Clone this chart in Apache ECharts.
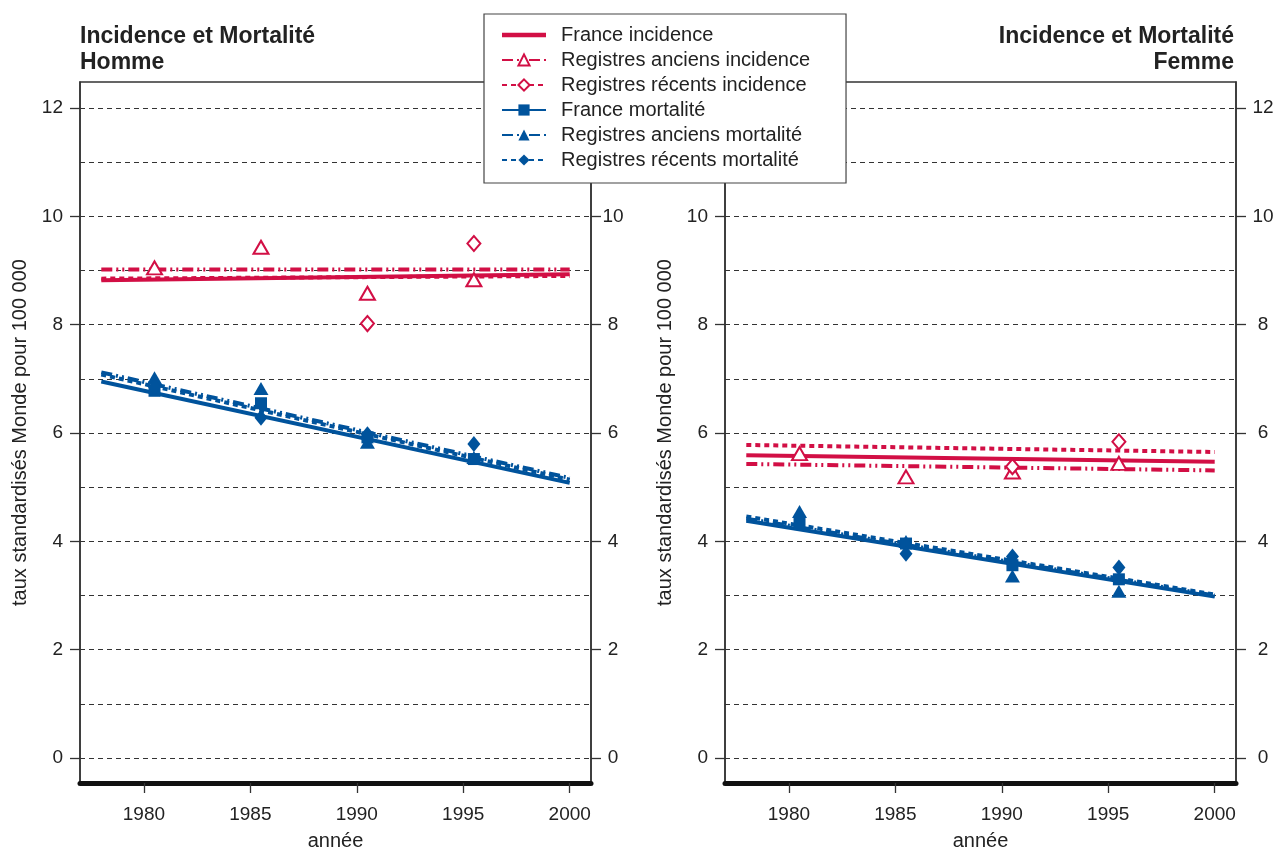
<!DOCTYPE html>
<html>
<head>
    <meta charset="utf-8">
    <title>Incidence et Mortalité</title>
    <script src="https://cdn.jsdelivr.net/npm/echarts@6/dist/echarts.min.js"></script>
    <style>
        html,body{
            height:100%;
            width:100%;
            margin:0;
            padding:0;
            background:#fff;
        }
        #chart{
            width:1284px;
            height:856px;
        }
    </style>
</head>
<body>
<div id="chart"></div>
<script>
    var myChart = echarts.init(document.getElementById('chart'));

    // années des droites de tendance (début, fin)
    var trendYears = [1978, 2000];
    // années des points observés
    var pointYears = [1980.5, 1985.5, 1990.5, 1995.5];
    // graduations
    var xTicks = [1980, 1985, 1990, 1995, 2000];
    var yTicks = [0, 2, 4, 6, 8, 10, 12];

    // Homme - tendances
    var hFranceInc = [8.82, 8.93];
    var hAncInc = [9.02, 9.02];
    var hRecInc = [8.85, 8.90];
    var hFranceMort = [6.95, 5.08];
    var hAncMort = [7.12, 5.17];
    var hRecMort = [7.08, 5.14];
    // Homme - points (null = pas de point visible)
    var hAncIncPts = [9.05, 9.43, 8.58, 8.83];
    var hRecIncPts = [null, null, 8.02, 9.50];
    var hFranceMortPts = [6.78, 6.55, 5.92, 5.52];
    var hAncMortPts = [7.02, 6.82, 5.83, 5.55];
    var hRecMortPts = [6.85, 6.28, 5.98, 5.80];

    // Femme - tendances
    var fFranceInc = [5.59, 5.47];
    var fAncInc = [5.43, 5.31];
    var fRecInc = [5.78, 5.65];
    var fFranceMort = [4.38, 2.98];
    var fAncMort = [4.42, 3.00];
    var fRecMort = [4.46, 3.02];
    // Femme - points
    var fAncIncPts = [5.62, 5.19, 5.28, 5.44];
    var fRecIncPts = [null, null, 5.38, 5.84];
    var fFranceMortPts = [4.32, 3.96, 3.56, 3.30];
    var fAncMortPts = [4.55, 4.00, 3.36, 3.08];
    var fRecMortPts = [4.45, 3.77, 3.72, 3.52];

    var names = ['France incidence', 'Registres anciens incidence', 'Registres récents incidence',
                 'France mortalité', 'Registres anciens mortalité', 'Registres récents mortalité'];

    var RED = '#d20f45';
    var BLUE = '#00539c';
    var FONT = '"Liberation Sans", Arial, sans-serif';

    function pairs(xs, ys) {
        var out = [];
        xs.forEach(function (x, i) {
            if (ys[i] != null) out.push([x, ys[i]]);
        });
        return out;
    }

    // style de chaque série : couleur, pointillés, symbole
    var styles = [
        {color: RED, type: 'solid', symbol: 'none'},
        {color: RED, type: [11, 4, 2, 4, 2, 4], symbol: 'emptyTriangle'},
        {color: RED, type: [5, 4], symbol: 'emptyDiamond'},
        {color: BLUE, type: 'solid', symbol: 'rect'},
        {color: BLUE, type: [11, 4, 2, 4, 2, 4], symbol: 'triangle'},
        {color: BLUE, type: [5, 4], symbol: 'diamond'}
    ];
    var symSizes = {emptyTriangle: [15, 13], triangle: [15, 13], emptyDiamond: [13, 15], diamond: [13, 16], rect: 12};

    function panelSeries(idx, trends, points) {
        var out = [];
        trends.forEach(function (t, i) {
            var s = styles[i];
            out.push({
                name: names[i],
                type: 'line',
                xAxisIndex: idx,
                yAxisIndex: idx * 2,
                data: pairs(trendYears, t),
                symbol: s.symbol,
                showSymbol: false,
                color: s.color,
                lineStyle: {color: s.color, width: 4, type: s.type},
                z: 3,
                silent: true
            });
        });
        points.forEach(function (p, i) {
            var s = styles[i + 1];
            out.push({
                name: names[i + 1],
                type: 'scatter',
                xAxisIndex: idx,
                yAxisIndex: idx * 2,
                data: pairs(pointYears, p),
                symbol: s.symbol,
                symbolSize: symSizes[s.symbol],
                itemStyle: {color: s.color, borderColor: s.color, borderWidth: s.symbol.indexOf('empty') === 0 ? 3 : 0, opacity: 1},
                z: 5,
                silent: true
            });
        });
        return out;
    }

    function xAxisOpt(idx) {
        return {
            type: 'value',
            gridIndex: idx,
            min: 1977,
            max: 2001,
            name: 'année',
            nameLocation: 'middle',
            nameGap: 48,
            nameTextStyle: {fontSize: 20, color: '#222', fontFamily: FONT},
            axisLine: {show: true, onZero: false, lineStyle: {color: '#111', width: 5}},
            axisTick: {show: true, length: 10, customValues: xTicks, lineStyle: {color: '#333', width: 1.3}},
            axisLabel: {customValues: xTicks, fontSize: 19, margin: 22, color: '#222', fontFamily: FONT,
                        formatter: function (v) { return String(v); }},
            splitLine: {show: false}
        };
    }

    function yAxisOpt(idx, side, labelMargin, withName) {
        var left = side === 'left';
        return {
            type: 'value',
            gridIndex: idx,
            position: side,
            min: -0.46,
            max: 12.48,
            minInterval: 2,
            maxInterval: 2,
            name: withName ? 'taux standardisés Monde pour 100 000' : '',
            nameLocation: 'middle',
            nameGap: 50,
            nameTextStyle: {fontSize: 20, color: '#222', fontFamily: FONT},
            axisLine: {show: true, onZero: false, lineStyle: {color: '#333', width: 1.5}},
            axisTick: {show: true, length: 10, customValues: yTicks, lineStyle: {color: '#333', width: 1.3}},
            axisLabel: {customValues: yTicks, fontSize: 19, margin: labelMargin, color: '#222',
                        fontFamily: FONT, align: left ? 'right' : 'center'},
            splitLine: {show: left, lineStyle: {color: '#333', width: 1, type: [5, 4]}},
            minorTick: {show: false, splitNumber: 2},
            minorSplitLine: {show: left, lineStyle: {color: '#333', width: 1, type: [5, 4]}}
        };
    }

    var titleFont = 'bold 23px ' + FONT;

    var option = {
        animation: false,
        backgroundColor: '#fff',
        textStyle: {fontFamily: FONT},
        graphic: [
            {
                type: 'text', x: 80, y: 24, z: 20,
                style: {text: 'Incidence et Mortalité\nHomme', font: titleFont, fill: '#222',
                        lineHeight: 26, align: 'left', verticalAlign: 'top'}
            },
            {
                type: 'text', x: 1234, y: 24, z: 20,
                style: {text: 'Incidence et Mortalité\nFemme', font: titleFont, fill: '#222',
                        lineHeight: 26, align: 'right', verticalAlign: 'top'}
            }
        ],
        legend: {
            orient: 'vertical',
            left: 484,
            top: 14,
            padding: [11, 36, 13, 17],
            itemWidth: 44,
            itemHeight: 14,
            itemGap: 5,
            backgroundColor: '#fff',
            borderColor: '#444',
            borderWidth: 1.2,
            borderRadius: 0,
            z: 10,
            selectedMode: false,
            textStyle: {fontSize: 20, color: '#222', fontFamily: FONT, padding: [0, 0, 0, 10]},
            data: [
                {name: names[0], icon: 'path://M0,0H40V4H0Z'},
                names[1], names[2], names[3], names[4], names[5]
            ]
        },
        grid: [
            {left: 80, top: 82, width: 511, bottom: 71, show: true, borderColor: '#333', borderWidth: 1.5, containLabel: false},
            {left: 725, top: 82, width: 511, bottom: 71, show: true, borderColor: '#333', borderWidth: 1.5, containLabel: false}
        ],
        xAxis: [xAxisOpt(0), xAxisOpt(1)],
        yAxis: [
            yAxisOpt(0, 'left', 17, true),
            yAxisOpt(0, 'right', 22, false),
            yAxisOpt(1, 'left', 17, true),
            yAxisOpt(1, 'right', 27, false)
        ],
        series: [].concat(
            panelSeries(0,
                [hFranceInc, hAncInc, hRecInc, hFranceMort, hAncMort, hRecMort],
                [hAncIncPts, hRecIncPts, hFranceMortPts, hAncMortPts, hRecMortPts]),
            panelSeries(1,
                [fFranceInc, fAncInc, fRecInc, fFranceMort, fAncMort, fRecMort],
                [fAncIncPts, fRecIncPts, fFranceMortPts, fAncMortPts, fRecMortPts])
        )
    };

    myChart.setOption(option);
</script>
</body>
</html>
